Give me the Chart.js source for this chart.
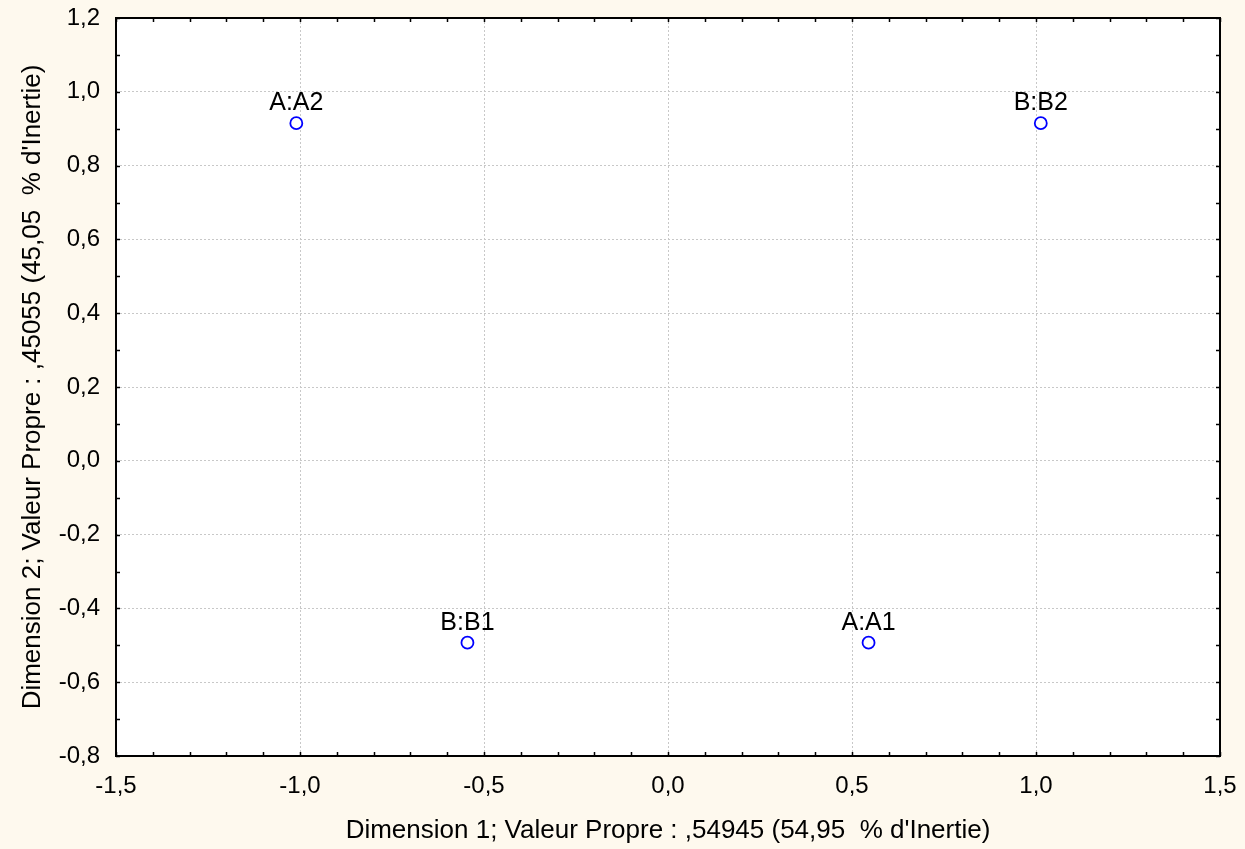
<!DOCTYPE html>
<html>
<head>
<meta charset="utf-8">
<script src="https://cdn.jsdelivr.net/npm/chart.js@4/dist/chart.umd.min.js"></script>
<style>
html,body{margin:0;padding:0;background:#FEF9EE;}
#wrap{width:1245px;height:849px;}
</style>
</head>
<body>
<div id="wrap"><canvas id="c" width="1245" height="849"></canvas></div>
<script>
const pointLabels = ["A:A2", "B:B2", "B:B1", "A:A1"];
const dim1 = [-1.01, 1.013, -0.545, 0.545];
const dim2 = [0.915, 0.915, -0.493, -0.493];
const xTitle = "Dimension 1; Valeur Propre : ,54945 (54,95  % d'Inertie)";
const yTitle = "Dimension 2; Valeur Propre : ,45055 (45,05  % d'Inertie)";
const xMin = -1.5, xMax = 1.5, xStep = 0.5, xMinor = 0.1;
const yMin = -0.8, yMax = 1.2, yStep = 0.2, yMinor = 0.1;

const FONT = "'Liberation Sans', Arial, sans-serif";
const fmt = v => (Math.abs(v) < 1e-9 ? 0 : v).toFixed(1).replace('.', ',');

function noOverflow(s) {
  s.paddingTop = 0; s.paddingBottom = 0; s.paddingLeft = 0; s.paddingRight = 0;
}

const framePlugin = {
  id: 'frame',
  afterDraw(chart) {
    const {ctx, chartArea: a, scales: {x, y}} = chart;
    ctx.save();
    ctx.strokeStyle = '#000';
    ctx.lineWidth = 1.5;
    ctx.beginPath();
    const nx = Math.round((xMax - xMin) / xMinor);
    for (let i = 0; i <= nx; i++) {
      const v = xMin + i * xMinor;
      const px = Math.round(x.getPixelForValue(v)) + 0.5;
      ctx.moveTo(px, a.bottom); ctx.lineTo(px, a.bottom - 4);
      ctx.moveTo(px, a.top); ctx.lineTo(px, a.top + 4);
    }
    const ny = Math.round((yMax - yMin) / yMinor);
    for (let i = 0; i <= ny; i++) {
      const v = yMin + i * yMinor;
      const py = Math.round(y.getPixelForValue(v)) + 0.5;
      ctx.moveTo(a.left, py); ctx.lineTo(a.left + 4, py);
      ctx.moveTo(a.right, py); ctx.lineTo(a.right - 4, py);
    }
    ctx.stroke();
    ctx.lineWidth = 2;
    ctx.strokeRect(a.left, a.top, a.right - a.left, a.bottom - a.top);
    const meta = chart.getDatasetMeta(0);
    ctx.fillStyle = '#000';
    ctx.font = "25px " + FONT;
    ctx.textAlign = 'center';
    ctx.textBaseline = 'alphabetic';
    meta.data.forEach((el, i) => {
      ctx.fillText(pointLabels[i], el.x, el.y - 13);
    });
    ctx.restore();
  }
};

new Chart(document.getElementById('c'), {
  type: 'scatter',
  data: {
    datasets: [{
      data: dim1.map((v, i) => ({x: v, y: dim2[i]})),
      pointRadius: 6,
      pointBorderWidth: 1.8,
      pointBorderColor: '#0000FF',
      pointBackgroundColor: '#FFFFFF',
      pointHoverRadius: 6
    }]
  },
  options: {
    responsive: false,
    animation: false,
    events: [],
    plugins: {
      legend: {display: false},
      tooltip: {enabled: false}
    },
    layout: {padding: {left: 0, top: 18, right: 25, bottom: 0}},
    scales: {
      x: {
        type: 'linear',
        min: xMin, max: xMax,
        afterFit(s) { s.height = 93; noOverflow(s); },
        ticks: {
          stepSize: xStep,
          callback: v => fmt(v),
          color: '#000',
          font: {family: FONT, size: 24},
          padding: 16,
          maxRotation: 0
        },
        grid: {color: '#C8C8C8', lineWidth: 1, drawTicks: false},
        border: {display: false, dash: [2, 2]},
        title: {
          display: true, text: xTitle, color: '#000',
          font: {family: FONT, size: 26},
          padding: {top: 0, bottom: 3}
        }
      },
      y: {
        type: 'linear',
        min: yMin, max: yMax,
        afterFit(s) { s.width = 116; noOverflow(s); },
        ticks: {
          stepSize: yStep,
          callback: v => fmt(v),
          color: '#000',
          font: {family: FONT, size: 24},
          padding: 16
        },
        grid: {color: '#C8C8C8', lineWidth: 1, drawTicks: false},
        border: {display: false, dash: [2, 2]},
        title: {
          display: true, text: yTitle, color: '#000',
          font: {family: FONT, size: 26},
          padding: {top: 17, bottom: 0}
        }
      }
    }
  },
  plugins: [framePlugin, {
    id: 'bg',
    beforeDraw(chart) {
      const {ctx, chartArea: a} = chart;
      ctx.save();
      ctx.fillStyle = '#FEF9EE';
      ctx.fillRect(0, 0, chart.width, chart.height);
      ctx.fillStyle = '#FFFFFF';
      ctx.fillRect(a.left, a.top, a.right - a.left, a.bottom - a.top);
      ctx.restore();
    }
  }]
});
</script>
</body>
</html>
